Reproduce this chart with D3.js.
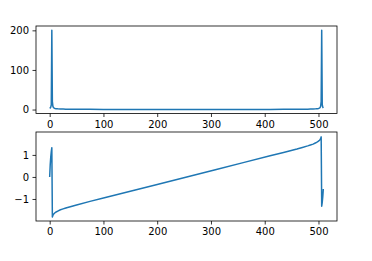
<!DOCTYPE html>
<html><head><meta charset="utf-8">
<script src="https://cdn.jsdelivr.net/npm/d3@7"></script>
<style>html,body{margin:0;padding:0;background:#fff;}svg{display:block;}</style>
</head><body>
<script>
const bins = [0,1,2,3,4,5,6,7,8,9,10,12,15,20,25,30,40,50,75,100,150,200,255,310,360,410,435,460,470,480,485,490,495,498,500,501,502,503,504,505,506,507,508,509];
const magnitude = [3,4,6,12,200,20,8,5,4,3.3,2.8,2.2,1.7,1.3,1.1,0.9,0.7,0.6,0.45,0.4,0.35,0.3,0.3,0.3,0.35,0.4,0.45,0.6,0.7,0.9,1.1,1.3,1.7,2.2,2.8,3.3,4,5,8,20,200,12,6,4];
const phase = [0,0.55,0.9,1.15,1.33,-1.82,-1.74,-1.7,-1.67,-1.645,-1.625,-1.59,-1.55,-1.49,-1.45,-1.41,-1.34,-1.27,-1.11,-0.96,-0.65,-0.34,0,0.34,0.65,0.96,1.11,1.27,1.34,1.41,1.45,1.49,1.55,1.59,1.625,1.645,1.67,1.7,1.74,1.82,-1.33,-1.15,-0.9,-0.55];
const xTicks = [0,100,200,300,400,500];
const magTicks = [0,100,200];
const phaseTicks = [-1,0,1];

const W = 372, H = 261;
const svg = d3.select("body").append("svg").attr("width", W).attr("height", H);
const x = d3.scaleLinear().domain([-25.45, 534.45]).range([36, 337]);

function panel(top, bottom, yDomain, yTicks, values) {
  const y = d3.scaleLinear().domain(yDomain).range([bottom, top]);
  const g = svg.append("g");
  const line = d3.line().x((d, i) => x(bins[i])).y(d => y(d));
  g.append("path").datum(values).attr("d", line)
    .attr("fill", "none").attr("stroke", "#1f77b4").attr("stroke-width", 1.5)
    .attr("stroke-linejoin", "round").attr("stroke-linecap", "butt");
  const fmt = d => d < 0 ? "\u2212" + Math.abs(d) : String(d);
  const xa = g.append("g").attr("transform", `translate(0,${bottom})`)
    .call(d3.axisBottom(x).tickValues(xTicks).tickSize(3.5).tickPadding(3.5).tickFormat(fmt));
  const ya = g.append("g").attr("transform", `translate(${x.range()[0]},0)`)
    .call(d3.axisLeft(y).tickValues(yTicks).tickSize(3.5).tickPadding(3.5).tickFormat(fmt));
  [xa, ya].forEach(a => {
    a.select(".domain").remove();
    a.selectAll("line").attr("stroke", "#000").attr("stroke-width", 0.8);
    a.selectAll("text").attr("font-family", "DejaVu Sans").attr("font-size", 10).attr("fill", "#000");
  });
  g.append("rect").attr("x", x.range()[0]).attr("y", top)
    .attr("width", x.range()[1] - x.range()[0]).attr("height", bottom - top)
    .attr("fill", "none").attr("stroke", "#000").attr("stroke-width", 0.8);
}

panel(26, 113.5, [-10, 211], magTicks, magnitude);
panel(132, 221, [-2.0, 2.04], phaseTicks, phase);
</script>
</body></html>
